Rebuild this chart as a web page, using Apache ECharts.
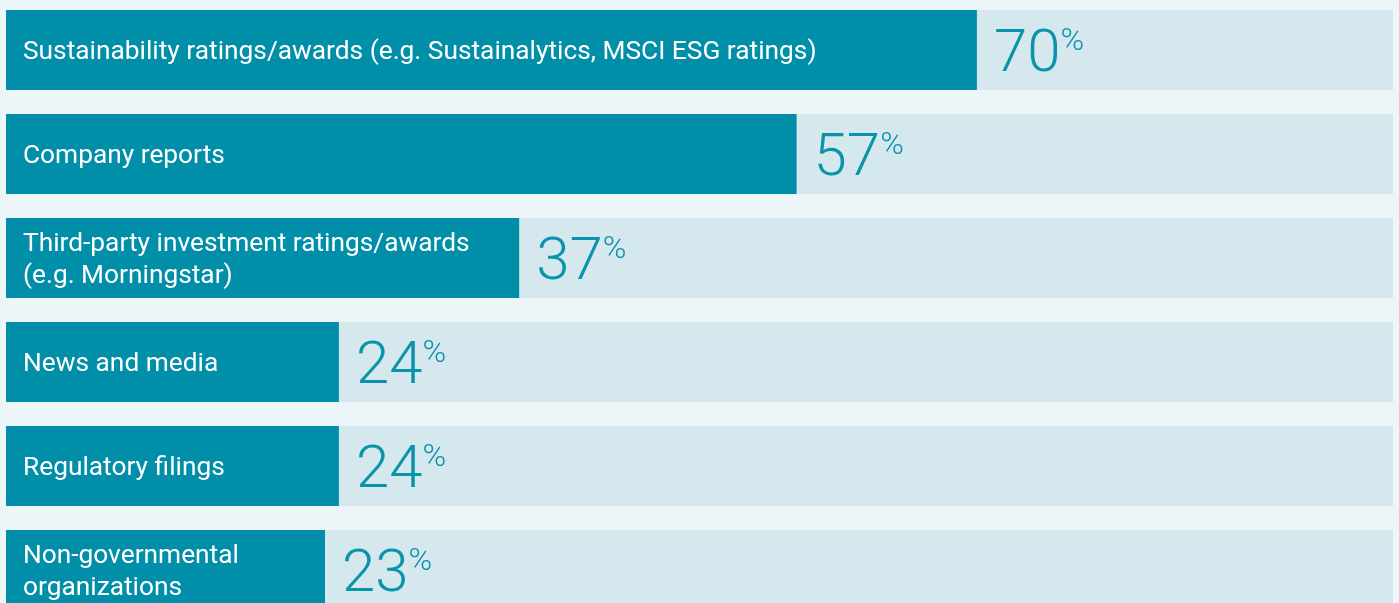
<!DOCTYPE html>
<html>
<head>
    <meta charset="utf-8">
    <title>Information sources</title>
    <script src="https://cdn.jsdelivr.net/npm/echarts@6.0.0/dist/echarts.min.js"></script>
    <style>
        body, html {
            margin: 0;
            padding: 0;
            height: 100%;
            overflow: hidden;
            background: #ecf5f8;
        }
        #main {
            width: 1399px;
            height: 603px;
        }
    </style>
</head>
<body>
    <div id="main"></div>
    <script>
        var categories = [
            'Sustainability ratings/awards (e.g. Sustainalytics, MSCI ESG ratings)',
            'Company reports',
            'Third-party investment ratings/awards\n(e.g. Morningstar)',
            'News and media',
            'Regulatory filings',
            'Non-governmental\norganizations'
        ];
        var values = [70, 57, 37, 24, 24, 23];

        var myChart = echarts.init(document.getElementById('main'));

        var option = {
            backgroundColor: '#ecf5f8',
            animation: false,
            grid: { left: 6, right: 6, top: -2, height: 624, outerBoundsMode: 'none' },
            xAxis: { type: 'value', min: 0, max: 100, show: false },
            yAxis: {
                type: 'category',
                data: categories,
                inverse: true,
                show: false
            },
            series: [
                {   // filled bars with names
                    type: 'bar',
                    data: values,
                    barWidth: 80,
                    showBackground: true,
                    backgroundStyle: { color: '#d5e8ee' },
                    itemStyle: { color: '#008ea8' },
                    label: {
                        show: true,
                        position: 'insideLeft',
                        distance: 17,
                        offset: [0, 2],
                        formatter: '{b}',
                        color: '#fff',
                        fontFamily: 'Roboto',
                        fontSize: 26.3,
                        lineHeight: 32
                    },
                    z: 2
                },
                {   // value labels
                    type: 'bar',
                    data: values,
                    barWidth: 80,
                    barGap: '-100%',
                    itemStyle: { color: 'transparent' },
                    label: {
                        show: true,
                        position: 'right',
                        distance: 17,
                        offset: [0, 6],
                        formatter: '{v|{c}}{p|%}',
                        rich: {
                            v: {
                                fontFamily: 'Roboto',
                                fontWeight: 300,
                                fontSize: 60,
                                lineHeight: 60,
                                color: '#0a93ab'
                            },
                            p: {
                                fontFamily: 'Roboto',
                                fontWeight: 300,
                                fontSize: 32,
                                lineHeight: 32,
                                color: '#0a93ab',
                                verticalAlign: 'top'
                            }
                        }
                    },
                    z: 3
                }
            ]
        };

        myChart.setOption(option);
    </script>
</body>
</html>
